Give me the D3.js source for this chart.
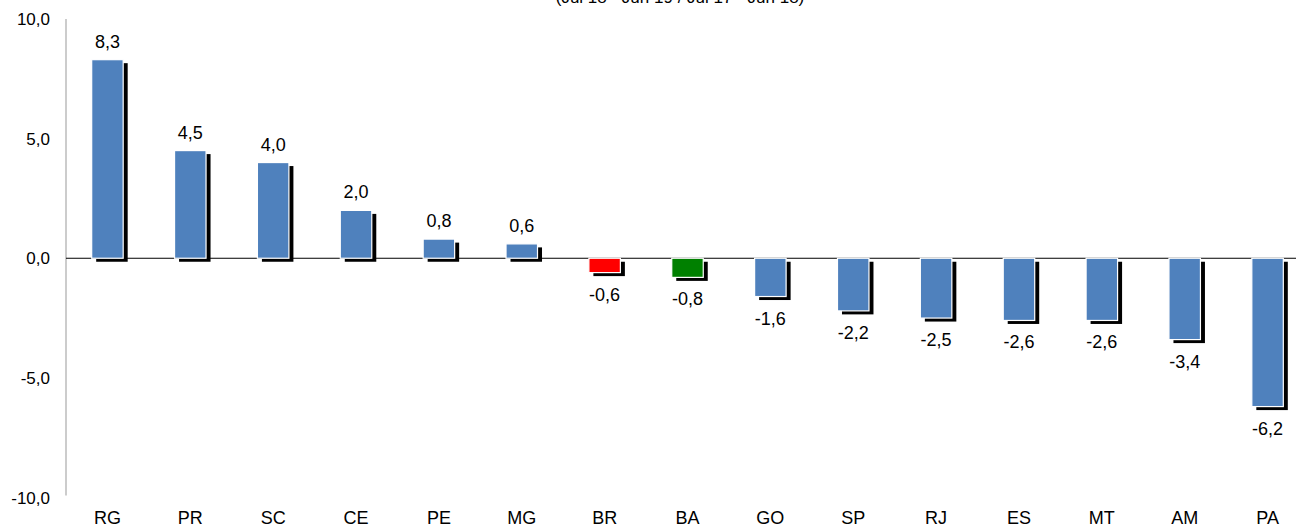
<!DOCTYPE html>
<html>
<head>
<meta charset="utf-8">
<script src="https://cdn.jsdelivr.net/npm/d3@7"></script>
<style>
  html, body { margin: 0; padding: 0; background: #fff; }
  svg { display: block; font-family: "Liberation Sans", Arial, sans-serif; }
</style>
</head>
<body>
<svg id="chart" width="1296" height="526"></svg>
<script>
// State codes and year-over-year change (%)
const categories = ["RG", "PR", "SC", "CE", "PE", "MG", "BR", "BA", "GO", "SP", "RJ", "ES", "MT", "AM", "PA"];
const values = [8.3, 4.5, 4.0, 2.0, 0.8, 0.6, -0.6, -0.8, -1.6, -2.2, -2.5, -2.6, -2.6, -3.4, -6.2];
const yTicks = [10, 5, 0, -5, -10];
const subtitle = "(Jul 18 - Jun 19 / Jul 17 - Jun 18)";
const highlight = { BR: "#ff0000", BA: "#008000" };
const baseColor = "#4f81bd";

const svg = d3.select("#chart");
const W = 1296;
const fmt = v => d3.format(".1f")(v).replace(".", ",").replace("−", "-");

const x = d3.scaleBand().domain(categories).range([66, 1309]).padding(0);
const y = d3.scaleLinear().domain([-10, 10]).range([497.5, 19]);
const barW = x.bandwidth() * 0.38;
const cx = c => x(c) + x.bandwidth() / 2;

// Subtitle (partly above the top edge)
svg.append("text")
  .attr("x", 680).attr("y", 3)
  .attr("text-anchor", "middle")
  .attr("font-size", 17)
  .attr("fill", "#000")
  .text(subtitle);

// Y axis line and labels
svg.append("line")
  .attr("x1", 66).attr("x2", 66)
  .attr("y1", y(10)).attr("y2", y(-10) - 2)
  .attr("stroke", "#999").attr("stroke-width", 1);

svg.append("g").selectAll("text").data(yTicks).join("text")
  .attr("x", 50).attr("y", d => y(d))
  .attr("dy", "0.36em")
  .attr("text-anchor", "end")
  .attr("font-size", 17)
  .text(d => fmt(d));

// Zero line
svg.append("line")
  .attr("x1", 66).attr("x2", W)
  .attr("y1", y(0)).attr("y2", y(0))
  .attr("stroke", "#000").attr("stroke-width", 1);

const data = categories.map((c, i) => ({ c, v: values[i] }));

// Drop shadows
svg.append("g").selectAll("rect").data(data).join("rect")
  .attr("x", d => cx(d.c) - barW / 2 + 4.5)
  .attr("y", d => Math.min(y(d.v), y(0)) + 3.5)
  .attr("width", barW)
  .attr("height", d => Math.abs(y(d.v) - y(0)))
  .attr("fill", "#000");

// Bars
svg.append("g").selectAll("rect").data(data).join("rect")
  .attr("x", d => cx(d.c) - barW / 2)
  .attr("y", d => Math.min(y(d.v), y(0)))
  .attr("width", barW)
  .attr("height", d => Math.abs(y(d.v) - y(0)))
  .attr("fill", d => highlight[d.c] || baseColor)
  .attr("stroke", "#fff").attr("stroke-width", 1.2);

// Value labels
svg.append("g").selectAll("text").data(data).join("text")
  .attr("x", d => cx(d.c))
  .attr("y", d => d.v >= 0 ? y(d.v) - 12 : y(d.v) + 28)
  .attr("text-anchor", "middle")
  .attr("font-size", 18)
  .text(d => fmt(d.v));

// Category labels
svg.append("g").selectAll("text").data(categories).join("text")
  .attr("x", d => cx(d))
  .attr("y", 524)
  .attr("text-anchor", "middle")
  .attr("font-size", 18)
  .text(d => d);
</script>
</body>
</html>
